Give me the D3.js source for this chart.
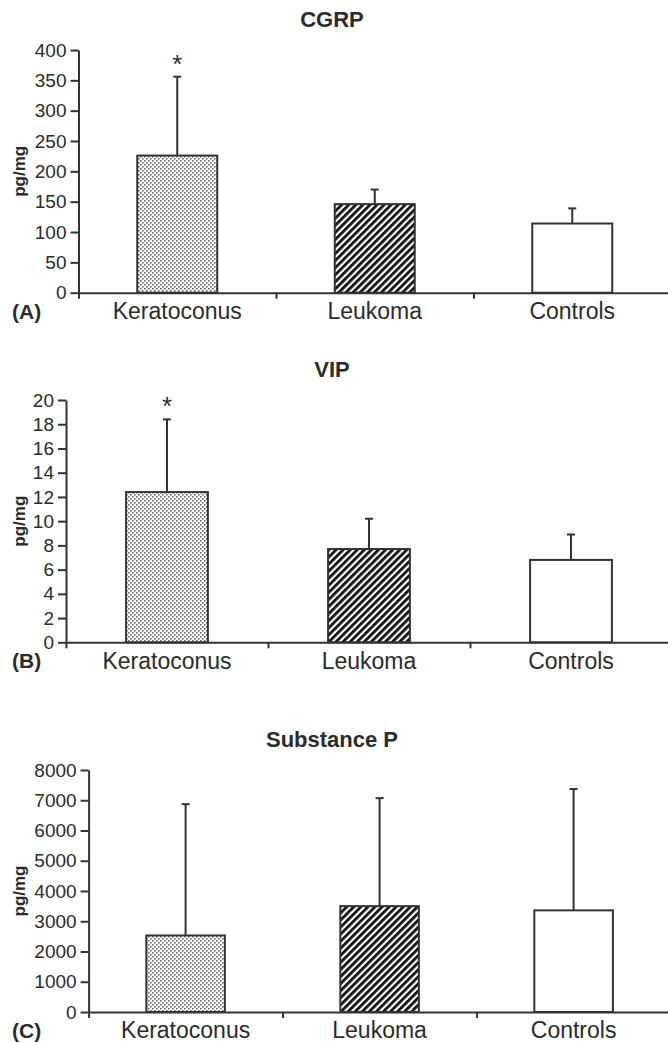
<!DOCTYPE html>
<html>
<head>
<meta charset="utf-8">
<script src="https://cdn.jsdelivr.net/npm/d3@7"></script>
<style>
  body { margin: 0; background: #fff; }
  svg { display: block; }
  text { font-family: "Liberation Sans", Arial, sans-serif; fill: #2b2b2b; }
</style>
</head>
<body>
<svg id="chart" width="668" height="1043"></svg>
<script>
// groups
var categories = ["Keratoconus", "Leukoma", "Controls"];

// CGRP (pg/mg) mean and upper SD
var cgrpMean = [226, 146, 114];
var cgrpSD = [130, 24, 25];
var cgrpTicks = [0, 50, 100, 150, 200, 250, 300, 350, 400];

// VIP (pg/mg)
var vipMean = [12.4, 7.7, 6.8];
var vipSD = [6.0, 2.5, 2.1];
var vipTicks = [0, 2, 4, 6, 8, 10, 12, 14, 16, 18, 20];

// Substance P (pg/mg)
var spMean = [2530, 3500, 3360];
var spSD = [4340, 3570, 4010];
var spTicks = [0, 1000, 2000, 3000, 4000, 5000, 6000, 7000, 8000];

var svg = d3.select("#chart");
var ink = "#333";

// fill patterns
var defs = svg.append("defs");
var dots = defs.append("pattern")
    .attr("id", "dots")
    .attr("patternUnits", "userSpaceOnUse")
    .attr("width", 4).attr("height", 4);
dots.append("rect").attr("width", 4).attr("height", 4).attr("fill", "#fff");
dots.append("rect").attr("x", 0).attr("y", 0).attr("width", 1.6).attr("height", 1.6).attr("fill", "#6a6a6a");
dots.append("rect").attr("x", 2).attr("y", 2).attr("width", 1.6).attr("height", 1.6).attr("fill", "#6a6a6a");

var stripes = defs.append("pattern")
    .attr("id", "stripes")
    .attr("patternUnits", "userSpaceOnUse")
    .attr("width", 5).attr("height", 5)
    .attr("patternTransform", "rotate(45)");
stripes.append("rect").attr("width", 5).attr("height", 5).attr("fill", "#fff");
stripes.append("rect").attr("x", 0).attr("width", 2.8).attr("height", 5).attr("fill", "#111");

var fills = ["url(#dots)", "url(#stripes)", "#fff"];

var panels = [
  {title: "CGRP", tag: "(A)", mean: cgrpMean, sd: cgrpSD, ticks: cgrpTicks, star: true,
   left: 78.5, right: 671, top: 50, bottom: 292.7},
  {title: "VIP", tag: "(B)", mean: vipMean, sd: vipSD, ticks: vipTicks, star: true,
   left: 66, right: 672, top: 400, bottom: 642.3},
  {title: "Substance P", tag: "(C)", mean: spMean, sd: spSD, ticks: spTicks, star: false,
   left: 88.6, right: 670.6, top: 770, bottom: 1012}
];

panels.forEach(function(p) {
  var g = svg.append("g");

  var x = d3.scaleBand().domain(categories).range([p.left, p.right]).paddingInner(0).paddingOuter(0);
  var bw = x.bandwidth() * 0.405;
  var y = d3.scaleLinear().domain([0, d3.max(p.ticks)]).range([p.bottom, p.top]);

  // title
  g.append("text")
    .attr("x", 332).attr("y", p.top - 23)
    .attr("text-anchor", "middle")
    .style("font-size", "22px").style("font-weight", "bold")
    .text(p.title);

  // bars
  g.selectAll(".bar")
    .data(categories)
    .enter().append("rect")
      .attr("x", function(d) { return x(d) + (x.bandwidth() - bw) / 2; })
      .attr("y", function(d, i) { return y(p.mean[i]); })
      .attr("width", bw)
      .attr("height", function(d, i) { return p.bottom - y(p.mean[i]); })
      .attr("fill", function(d, i) { return fills[i]; })
      .attr("stroke", ink)
      .attr("stroke-width", 2);

  // error bars (upper only)
  var cx = function(d) { return x(d) + x.bandwidth() / 2; };
  g.selectAll(".err")
    .data(categories)
    .enter().append("line")
      .attr("x1", cx).attr("x2", cx)
      .attr("y1", function(d, i) { return y(p.mean[i]); })
      .attr("y2", function(d, i) { return y(p.mean[i] + p.sd[i]); })
      .attr("stroke", ink).attr("stroke-width", 2);
  g.selectAll(".cap")
    .data(categories)
    .enter().append("line")
      .attr("x1", function(d) { return cx(d) - 4; })
      .attr("x2", function(d) { return cx(d) + 4; })
      .attr("y1", function(d, i) { return y(p.mean[i] + p.sd[i]); })
      .attr("y2", function(d, i) { return y(p.mean[i] + p.sd[i]); })
      .attr("stroke", ink).attr("stroke-width", 2);

  if (p.star) {
    g.append("text")
      .attr("x", cx(categories[0]))
      .attr("y", y(p.mean[0] + p.sd[0]) - 4)
      .attr("text-anchor", "middle")
      .style("font-size", "26px")
      .text("*");
  }

  // y axis
  var yAxis = g.append("g")
    .attr("transform", "translate(" + p.left + ",0)")
    .call(d3.axisLeft(y).tickValues(p.ticks).tickFormat(d3.format("d")).tickSize(8).tickSizeOuter(0).tickPadding(4));
  yAxis.selectAll("text").style("font-size", "19px").attr("fill", "#2b2b2b");

  // x axis: ticks at group boundaries
  var edge = d3.scaleLinear().domain([0, 3]).range([p.left, p.right]);
  g.append("g")
    .attr("transform", "translate(0," + p.bottom + ")")
    .call(d3.axisBottom(edge).tickValues([0, 1, 2]).tickFormat("").tickSize(6).tickSizeOuter(0));

  // category labels
  var xLab = g.append("g")
    .attr("transform", "translate(0," + p.bottom + ")")
    .call(d3.axisBottom(x).tickSize(0).tickPadding(10));
  xLab.select(".domain").remove();
  xLab.selectAll("text").style("font-size", "23px").attr("fill", "#2b2b2b");

  g.selectAll(".domain, .tick line").attr("stroke", ink).attr("stroke-width", 2);

  // y label
  g.append("text")
    .attr("transform", "translate(25," + (p.top + p.bottom) / 2 + ") rotate(-90)")
    .attr("text-anchor", "middle")
    .style("font-size", "17px").style("font-weight", "bold")
    .text("pg/mg");

  // panel tag
  g.append("text")
    .attr("x", 12).attr("y", p.bottom + 26)
    .style("font-size", "21px").style("font-weight", "bold")
    .text(p.tag);
});
</script>
</body>
</html>
